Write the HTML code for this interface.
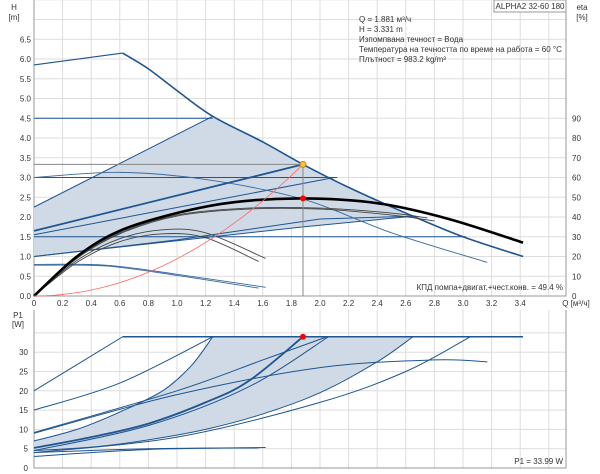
<!DOCTYPE html>
<html><head><meta charset="utf-8"><style>
body{margin:0;background:#fff}
svg{display:block;font-family:"Liberation Sans",sans-serif}
text{font-size:8px;fill:#333}
</style></head><body>
<svg id="c" width="600" height="474"></svg>
<script>
const qTicks=[0,0.2,0.4,0.6,0.8,1.0,1.2,1.4,1.6,1.8,2.0,2.2,2.4,2.6,2.8,3.0,3.2,3.4];
const hTicks=[0,0.5,1.0,1.5,2.0,2.5,3.0,3.5,4.0,4.5,5.0,5.5,6.0,6.5];
const etaTicks=[0,10,20,30,40,50,60,70,80,90];
const pTicks=[0,5,10,15,20,25,30];
const dutyQ=1.881, dutyH=3.331, dutyEta=49.4, dutyP=33.99;
// H curves [Q,H]
const hMaxLine=[[0,5.85],[0.62,6.15]];
const hMax=[[0.62,6.15],[0.8,5.75],[1.0,5.2],[1.25,4.55],[1.6,3.9],[1.881,3.331],[2.2,2.75],[2.6,2.1],[3.0,1.5],[3.42,1.0]];
const hShade=[[0,1.0],[0,2.25],[1.25,4.55],[1.45,4.17],[1.6,3.9],[1.881,3.331],[2.05,3.03],[2.2,2.75],[2.4,2.42],[2.65,2.02],[1.881,1.75]];
const hLines=[
 [[0,4.5],[1.25,4.5]],[[0,2.25],[1.25,4.55]],[[0,1.55],[2.1,3.0]],
 [[0,3.0],[2.12,3.0]],[[0,1.5],[3.02,1.5]],[[0,1.0],[1.881,1.75],[2.65,2.02]],
 [[0,1.0],[1.0,1.42],[2.0,1.95],[2.65,2.02]]];
const hThick=[[0,1.65],[1.881,3.331]];
const hCurves=[
 [[0,3.0],[0.6,3.13],[1.2,2.95],[1.881,2.45],[2.5,1.6],[3.17,0.85]],
 [[0,0.8],[0.5,0.78],[1.0,0.55],[1.62,0.22]],[[0,0.78],[0.5,0.76],[1.0,0.52],[1.57,0.2]]];
const etaMain=[[0,0],[0.3,20],[0.6,33],[1.0,42],[1.4,47.5],[1.881,49.4],[2.4,47],[2.9,39],[3.42,27]];
const etaOthers=[
 [[0,0],[0.3,19.5],[0.6,32],[1.0,41],[1.5,44.5],[2.0,44.5],[2.5,42],[2.75,39.5]],
 [[0,0],[0.3,19],[0.6,31.5],[1.0,40.5],[1.5,44],[2.0,44],[2.5,41],[2.8,38]],
 [[0,0],[0.3,18],[0.6,29],[0.9,33.5],[1.2,32],[1.62,19]],
 [[0,0],[0.3,17],[0.6,27.5],[0.9,31.5],[1.2,29.5],[1.57,17.5]]];
// P1 curves [Q,P]
const pShade=[[0,4.5],[0,7],[0.3,10],[0.6,14.5],[0.9,20],[1.1,26.5],[1.25,34],[2.65,34],[2.4,27.5],[2.0,19.5],[1.6,14],[1.2,10],[0.8,7.3],[0.4,5.4]];
const pLines=[
 [[0,20],[0.62,34]],[[0,15],[0.6,22],[1.25,34]],
 [[0,7],[0.3,10],[0.6,14.5],[0.9,20],[1.1,26.5],[1.25,34]],
 [[0,9.2],[1.0,20],[1.6,28],[2.05,34]],[[0,4.5],[0.4,5.4],[0.8,7.3],[1.2,10],[1.6,14],[2.0,19.5],[2.4,27.5],[2.65,34]],
 [[0,4],[1.0,8],[2.0,17],[2.6,25],[3.05,34]],[[0,9],[1.0,19],[2.0,26],[2.8,28],[3.17,27.5]],
 [[0,3],[0.8,4.8],[1.62,5.3]],[[0,4],[0.8,5],[1.57,5.2]],[[0,4.5],[0.8,11],[1.5,21],[2.06,34]]];
const pTop=[[0.62,34],[3.42,34]];
const pThick=[[0,5.2],[0.4,8],[0.8,11.5],[1.2,17],[1.5,22.5],[1.881,34]];
const X0=34,XS=143,Y0=296,YS=39.5,PY0=468,PYS=3.86,L=34,R=566;
const sx=q=>X0+q*XS, sy=h=>Y0-h*YS, se=e=>Y0-e*1.975, sp=p=>PY0-p*PYS;
const svg=document.getElementById('c');const NS='http://www.w3.org/2000/svg';
function mk(t,a,p){const e=document.createElementNS(NS,t);for(const k in a)e.setAttribute(k,a[k]);(p||svg).appendChild(e);return e;}
function path(pts,fx,fy,close,linear){let d='';const P=pts.map(p=>[fx(p[0]),fy(p[1])]);
 for(let i=0;i<P.length;i++){if(i==0){d+='M'+P[0];continue;}
  if(linear){d+='L'+P[i];continue;}
  const p0=P[Math.max(i-2,0)],p1=P[i-1],p2=P[i],p3=P[Math.min(i+1,P.length-1)];
  const c1=[p1[0]+(p2[0]-p0[0])/6,p1[1]+(p2[1]-p0[1])/6],c2=[p2[0]-(p3[0]-p1[0])/6,p2[1]-(p3[1]-p1[1])/6];
  d+='C'+c1+' '+c2+' '+p2;}return d+(close?'Z':'');}
function txt(x,y,s,anchor,name){const t=mk('text',{x:x,y:y,'text-anchor':anchor||'start'});t.textContent=s;
 
 return t;}
function line(pts,fx,fy,w,col,name,linear){const e=mk('path',{d:path(pts,fx,fy,false,linear),fill:'none',stroke:col,'stroke-width':w});
 
 return e;}
// grids
for(let q=0;q<=3.61;q+=0.2){const l=mk('line',{x1:sx(q),x2:sx(q),y1:0,y2:Y0,stroke:'#ddd'});
 
 }
for(let h=0;h<=7.5;h+=0.5){const l=mk('line',{x1:L,x2:R,y1:sy(h),y2:sy(h),stroke:'#ddd'});
 
 }
for(let q=0;q<=3.61;q+=0.2){const l=mk('line',{x1:sx(q),x2:sx(q),y1:310,y2:PY0,stroke:'#ddd'});
 
 }
for(let p=0;p<=35;p+=5){const l=mk('line',{x1:L,x2:R,y1:sp(p),y2:sp(p),stroke:'#ddd'});
 
 }
mk('path',{d:`M${L},0V${Y0}H${R}V0`,fill:'none',stroke:'#999'});
mk('path',{d:`M${L},310V${PY0}H${R}V310`,fill:'none',stroke:'#999'});
// ticks
qTicks.forEach(q=>txt(sx(q),Y0+10,q==0?'0':q.toFixed(1),'middle','q-tick-label'));
hTicks.forEach(h=>txt(L-3,sy(h)+3,h.toFixed(1),'end','h-tick-label'));
etaTicks.forEach(e=>txt(R+6,se(e)+3,String(e),'start','eta-tick-label'));
pTicks.forEach(p=>txt(L-6,sp(p)+3,String(p),'end','p-tick-label'));
txt(14,10,'H','middle','h-axis-title');txt(14,20,'[m]','middle','h-axis-title-unit');
txt(582,10,'eta','middle','eta-axis-title');txt(582,20,'[%]','middle','eta-axis-title-unit');
txt(576,306,'Q [м³/ч]','middle','q-axis-title');
txt(18,318,'P1','middle','p-axis-title');txt(18,327,'[W]','middle','p-axis-title-unit');
const tb=mk('rect',{x:494,y:0,width:72,height:12,fill:'#fff',stroke:'#999'});

txt(530,9,'ALPHA2 32-60 180','middle','pump-title');
['Q = 1.881 м³/ч','H = 3.331 m','Изпомпвана течност = Вода','Температура на течността по време на работа = 60 °C','Плътност = 983.2 kg/m³'].forEach((s,i)=>txt(359,22+i*10,s,'start','info-line'));
txt(563,290,'КПД помпа+двигат.+чест.конв. = 49.4 %','end','efficiency-label');
txt(563,464,'P1 = 33.99 W','end','power-label');
// top chart series
const sh=mk('path',{d:path(hShade,sx,sy,true,true),fill:'#cfdae6',stroke:'none'});

hLines.forEach(c=>line(c,sx,sy,1,'#1f5591','h-curve',true));
hCurves.forEach(c=>line(c,sx,sy,0.9,'#3a6a9e','h-curve'));
line(hThick,sx,sy,1.8,'#1f5591','h-duty-curve',true);
line(hMaxLine,sx,sy,1.2,'#1f5591','h-max-curve',true);
line(hMax,sx,sy,1.6,'#1f5591','h-max-curve');
etaOthers.forEach(c=>line(c,sx,se,0.9,'#444','eta-curve'));
line(etaMain,sx,se,2.6,'#000','eta-main-curve');
const sys=[];for(let i=0;i<=20;i++){const q=dutyQ*i/20;sys.push([q,dutyH*(q/dutyQ)**2]);}
line(sys,sx,sy,0.8,'#f66','system-curve');
const gl=mk('path',{d:`M${L},${sy(dutyH)}H${sx(dutyQ)}V${Y0}`,fill:'none',stroke:'#888'});

const dp=mk('circle',{cx:sx(dutyQ),cy:sy(dutyH),r:3,fill:'#f5c242',stroke:'#d08000'});

const ep=mk('circle',{cx:sx(dutyQ),cy:se(dutyEta),r:3,fill:'#f00'});

// bottom chart
const ps=mk('path',{d:path(pShade,sx,sp,true,true),fill:'#cfdae6',stroke:'none'});

pLines.forEach(c=>line(c,sx,sp,1,'#1f5591','p1-curve'));
line(pTop,sx,sp,1.6,'#1f5591','p1-max-line',true);
line(pThick,sx,sp,1.8,'#1f5591','p1-duty-curve');
const pp=mk('circle',{cx:sx(dutyQ),cy:sp(dutyP),r:3,fill:'#f00'});

</script></body></html>
